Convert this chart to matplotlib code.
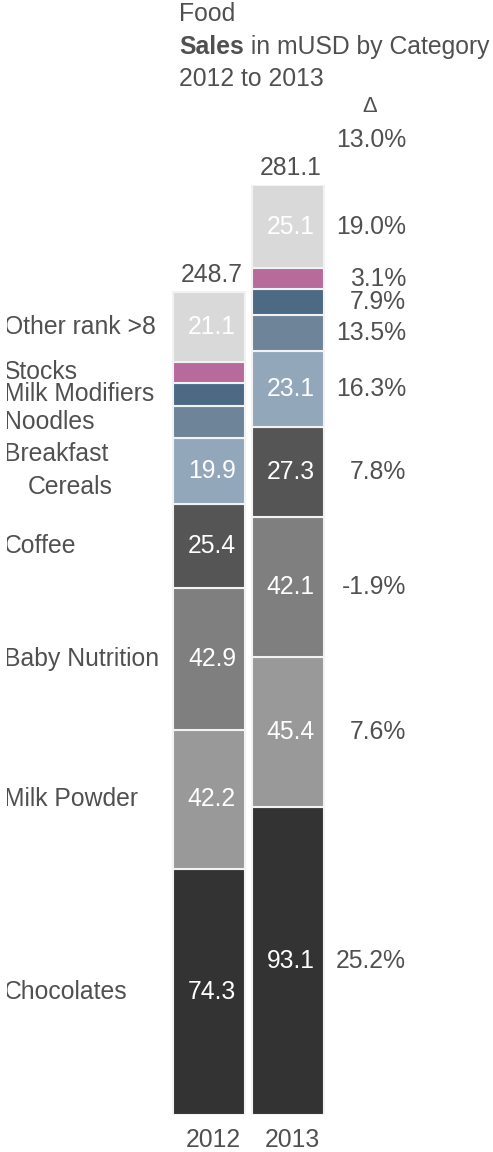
import matplotlib.pyplot as plt
from matplotlib.transforms import Bbox, TransformedBbox

plt.rcParams['font.family'] = ['Liberation Sans', 'DejaVu Sans']

categories = ['Chocolates', 'Milk Powder', 'Baby Nutrition', 'Coffee', 'Breakfast\nCereals',
              'Noodles', 'Milk Modifiers', 'Stocks', 'Other rank >8']
sales_2012 = [74.3, 42.2, 42.9, 25.4, 19.9, 9.6, 7.1, 6.2, 21.1]
sales_2013 = [93.1, 45.4, 42.1, 27.3, 23.1, 10.9, 7.7, 6.4, 25.1]
delta_pct = [25.2, 7.6, -1.9, 7.8, 16.3, 13.5, 7.9, 3.1, 19.0]
total_delta = 13.0
years = ['2012', '2013']
# small segments carry no value label
labelled = [True, True, True, True, True, False, False, False, True]

colors = ['#333333', '#999999', '#7f7f7f', '#555555', '#93a7bb',
          '#6e8499', '#4d6a85', '#b76b9b', '#d9d9d9']
txt = '#505050'
fs = 17.8

fig = plt.figure(figsize=(4.93, 11.52), dpi=100)
ax = fig.add_axes([0, 37 / 1152, 1, 930 / 1152])
ax.set_xlim(-2.646, 3.595)
ax.set_ylim(0, sum(sales_2013))
ax.axis('off')

series = [sales_2012, sales_2013]
for i, vals in enumerate(series):
    bottom = 0
    for j, v in enumerate(vals):
        ax.bar(i, v, bottom=bottom, width=0.9, color=colors[j],
               edgecolor='#f2f2f2', linewidth=1.5)
        if labelled[j]:
            ax.text(i + 0.34, bottom + v / 2, f'{v:.1f}', ha='right', va='center',
                    color='white', fontsize=fs)
        bottom += v
    ax.annotate(f'{bottom:.1f}', (i, bottom), xytext=(2, 7), textcoords='offset points',
                ha='center', va='baseline', color=txt, fontsize=fs)
    ax.annotate(years[i], (i, 0), xytext=(3, -23), textcoords='offset points',
                ha='center', va='baseline', color=txt, fontsize=fs, annotation_clip=False)

# category names next to the 2012 bar, clipped at the left margin
clip = TransformedBbox(Bbox.from_extents(7 / 493, 0, 1, 1), fig.transFigure)
ytr = ax.get_yaxis_transform()
bottom = 0
for j, name in enumerate(categories):
    yc = bottom + sales_2012[j] / 2
    lines = name.split('\n')
    if len(lines) == 1:
        t = ax.text(4 / 493, yc, name, transform=ytr, ha='left', va='center',
                    color=txt, fontsize=fs, clip_on=True)
        t.set_clip_box(clip)
    else:
        t1 = ax.annotate(lines[0], (4 / 493, yc), xycoords=ytr, xytext=(0, 12),
                         textcoords='offset points', ha='left', va='center',
                         color=txt, fontsize=fs, annotation_clip=False)
        t2 = ax.annotate(lines[1], (28 / 493, yc), xycoords=ytr, xytext=(0, -12),
                         textcoords='offset points', ha='left', va='center',
                         color=txt, fontsize=fs, annotation_clip=False)
        for t in (t1, t2):
            t.set_clip_on(True)
            t.set_clip_box(clip)
    bottom += sales_2012[j]

# change column beside the 2013 bar
bottom = 0
for j, d in enumerate(delta_pct):
    yc = bottom + sales_2013[j] / 2
    ax.text(406 / 493, yc, f'{d:.1f}%', transform=ytr, ha='right', va='center',
            color=txt, fontsize=fs)
    bottom += sales_2013[j]

fig.text(370 / 493, 1 - 106 / 1152, '\u0394', ha='center', va='center', color=txt, fontsize=fs - 2)
fig.text(406 / 493, 1 - 147 / 1152, f'{total_delta:.1f}%', ha='right', va='baseline',
         color=txt, fontsize=fs)

# title block
fig.text(179 / 493, 1 - 21 / 1152, 'Food', ha='left', va='baseline', color=txt, fontsize=fs)
s = fig.text(179 / 493, 1 - 54 / 1152, 'Sales', ha='left', va='baseline', color=txt,
             fontsize=fs, fontweight='bold')
ax.annotate(' in mUSD by Category', xy=(1, 0), xycoords=s, ha='left', va='bottom',
            color=txt, fontsize=fs, annotation_clip=False)
fig.text(179 / 493, 1 - 86 / 1152, '2012 to 2013', ha='left', va='baseline', color=txt, fontsize=fs)

fig.savefig('out.png', dpi=100)
